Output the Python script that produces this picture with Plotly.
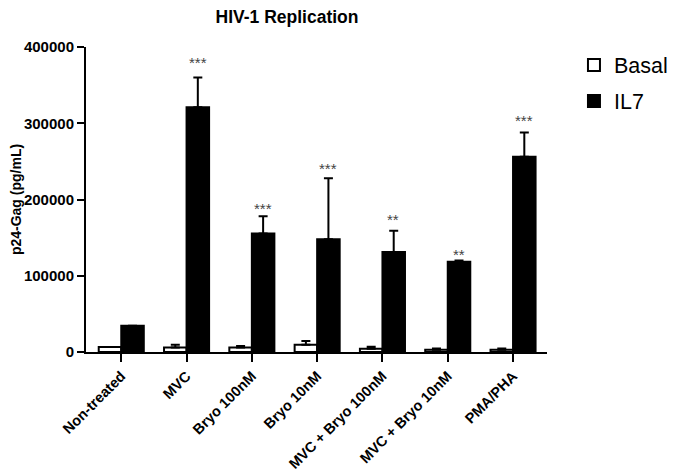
import plotly.graph_objects as go

categories = ["Non-treated", "MVC", "Bryo 100nM", "Bryo 10nM",
              "MVC + Bryo 100nM", "MVC + Bryo 10nM", "PMA/PHA"]
basal = [6500, 6000, 6000, 9500, 4300, 3000, 3000]
basal_err = [0, 3500, 2000, 5000, 2500, 1500, 1500]
il7 = [34500, 321000, 155500, 148000, 131000, 118500, 256000]
il7_err = [0, 39000, 22500, 80000, 28000, 1500, 32000]
signif = ["", "***", "***", "***", "**", "**", "***"]
signif_y = [None, 382500, 191000, 243000, 177000, 131000, 306000]
y_ticks = [0, 100000, 200000, 300000, 400000]

FONT = "Arial, 'Liberation Sans', sans-serif"

fig = go.Figure()
fig.add_trace(go.Bar(
    name="Basal", x=categories, y=basal, legendgroup="basal",
    marker=dict(color="white", line=dict(color="black", width=2)),
    error_y=dict(type="data", array=basal_err, arrayminus=[0] * len(basal),
                 symmetric=False, color="black", thickness=2, width=4.5),
))
fig.add_trace(go.Bar(
    name="IL7", x=categories, y=il7, legendgroup="il7",
    marker=dict(color="black", line=dict(color="black", width=2)),
    error_y=dict(type="data", array=il7_err, arrayminus=[0] * len(il7),
                 symmetric=False, color="black", thickness=2, width=4.5),
))

for c, sy, s in zip(categories, signif_y, signif):
    if s:
        fig.add_annotation(x=c, y=sy, text=s, showarrow=False,
                           xanchor="center", yanchor="middle",
                           xshift=11, yshift=-2,
                           font=dict(family=FONT, size=15, color="#444"))

fig.update_layout(
    width=667, height=465,
    margin=dict(l=78, r=128, t=39, b=121, autoexpand=False),
    paper_bgcolor="white", plot_bgcolor="white",
    barmode="group", bargap=0.31, bargroupgap=0,
    font=dict(family=FONT, color="black"),
    title=dict(text="<b>HIV-1 Replication</b>", x=279 / 667, xanchor="center",
               y=1 - 9 / 465, yanchor="middle",
               font=dict(family=FONT, size=17.5, color="black")),
    legend=dict(x=1.0585, y=1.008, xanchor="left", yanchor="top",
                font=dict(family=FONT, size=21.5, color="black"),
                bgcolor="rgba(0,0,0,0)", tracegroupgap=5),
    showlegend=True,
)
fig.update_xaxes(
    range=[-0.54, 6.52], showline=True, linecolor="black", linewidth=2,
    ticks="outside", ticklen=8, tickwidth=2, tickcolor="black",
    tickangle=-45, tickfont=dict(family=FONT, size=14.5, color="black", weight="bold"),
    showgrid=False, zeroline=False, automargin=False,
)
fig.update_yaxes(
    range=[0, 400000], tickvals=y_ticks, ticktext=[str(t) for t in y_ticks],
    showline=True, linecolor="black", linewidth=2,
    ticks="outside", ticklen=7, tickwidth=2, tickcolor="black",
    tickfont=dict(family=FONT, size=15, color="black", weight="bold"),
    showgrid=False, zeroline=False, automargin=False,
    title=dict(text="<b>p24-Gag (pg/mL)</b>", standoff=4,
               font=dict(family=FONT, size=14, color="black")),
)
fig.write_html("out.html")
